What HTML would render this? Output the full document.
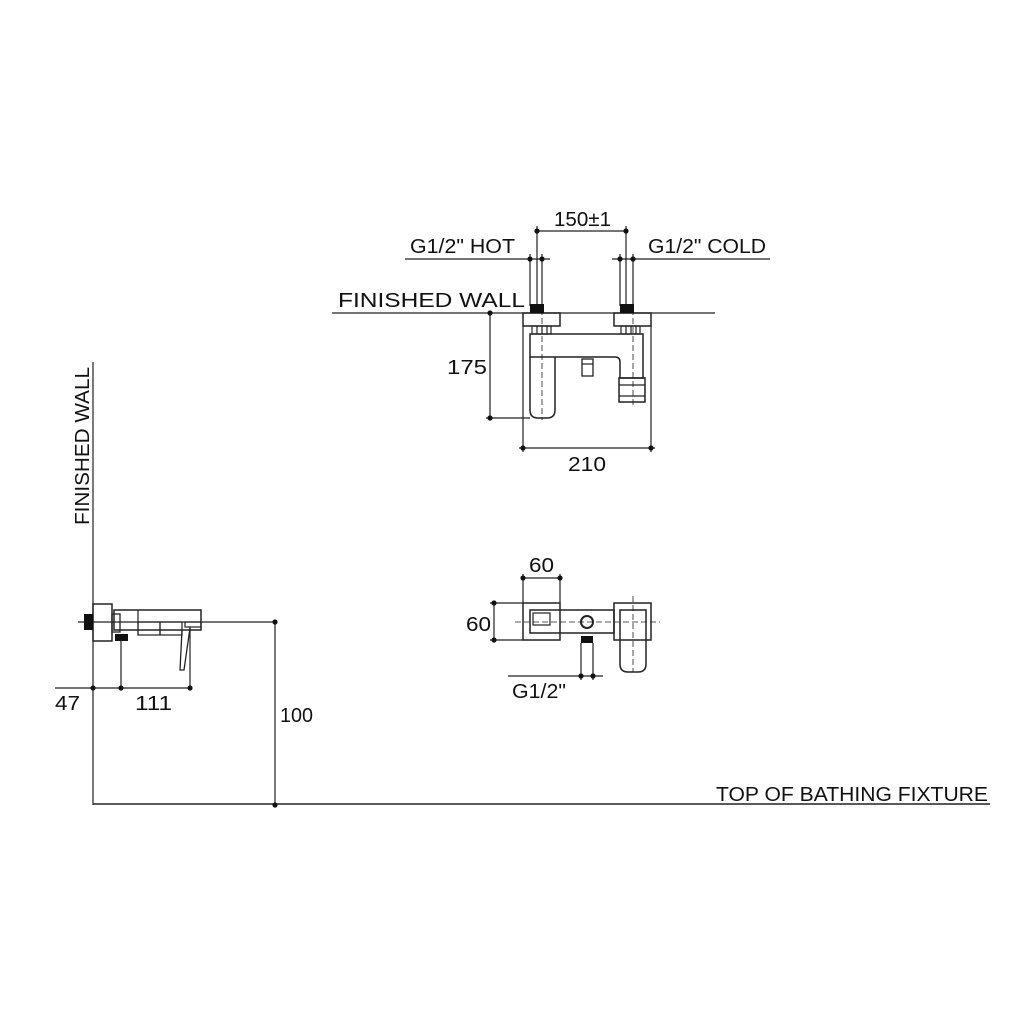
<!DOCTYPE html>
<html><head><meta charset="utf-8"><style>
html,body{margin:0;padding:0;background:#fff}
svg{display:block}
text{font-family:"Liberation Sans",Arial,sans-serif;fill:#111}
</style></head><body>
<svg width="1024" height="1024" viewBox="0 0 1024 1024" xmlns="http://www.w3.org/2000/svg">
<g stroke="#222" stroke-width="1.2" fill="none">
<line x1="332" y1="313" x2="715" y2="313"/>
<line x1="405" y1="259" x2="550" y2="259"/>
<line x1="612" y1="259" x2="770" y2="259"/>
<line x1="537" y1="231" x2="626" y2="231"/>
<line x1="530" y1="254" x2="530" y2="306"/>
<line x1="542" y1="254" x2="542" y2="306"/>
<line x1="537" y1="226" x2="537" y2="306"/>
<line x1="620" y1="254" x2="620" y2="306"/>
<line x1="633" y1="254" x2="633" y2="306"/>
<line x1="626" y1="226" x2="626" y2="306"/>
<rect x="523" y="313" width="37" height="13" stroke-width="1.5"/>
<rect x="614" y="313" width="37" height="13" stroke-width="1.5"/>
<rect x="532" y="326" width="19" height="8"/>
<rect x="621" y="326" width="19" height="8"/>
<line x1="537" y1="326" x2="537" y2="334"/><line x1="542" y1="326" x2="542" y2="334"/><line x1="547" y1="326" x2="547" y2="334"/>
<line x1="626" y1="326" x2="626" y2="334"/><line x1="631" y1="326" x2="631" y2="334"/><line x1="636" y1="326" x2="636" y2="334"/>
<path d="M530 334 H643 V378 H620 V362 Q620 357 615 357 H530 Z" stroke-width="1.5"/>
<path d="M530 357 V410 Q530 418 538 418 H547 Q555 418 555 410 V357" stroke-width="1.5"/>
<rect x="582" y="359" width="11" height="17" stroke-width="1.3"/>
<line x1="582" y1="364" x2="593" y2="364"/>
<rect x="619" y="378" width="26" height="24" stroke-width="1.5"/>
<line x1="619" y1="385" x2="645" y2="385"/><line x1="619" y1="396" x2="645" y2="396"/>
<line x1="523" y1="326" x2="523" y2="452"/>
<line x1="651" y1="326" x2="651" y2="452"/>
<line x1="519" y1="448" x2="655" y2="448"/>
<line x1="490" y1="313" x2="490" y2="418"/>
<line x1="486" y1="418" x2="530" y2="418"/>
<line x1="542" y1="300" x2="542" y2="420" stroke-dasharray="6,3" stroke-width="0.8"/>
<line x1="633" y1="300" x2="633" y2="405" stroke-dasharray="6,3" stroke-width="0.8"/>

<line x1="93" y1="362" x2="93" y2="805"/>
<line x1="93" y1="804" x2="990" y2="804" stroke-width="1.6"/>
<line x1="78" y1="622" x2="275" y2="622"/>
<line x1="275" y1="622" x2="275" y2="805"/>
<rect x="93" y="604" width="19" height="37" stroke-width="1.5"/>
<rect x="112" y="614" width="8" height="18" stroke-width="1.3"/>
<rect x="114" y="610" width="87" height="20" stroke-width="1.5"/>
<line x1="138" y1="610" x2="138" y2="635"/>
<rect x="138" y="622" width="22" height="13"/>
<rect x="160" y="622" width="22" height="13"/>
<rect x="185" y="622" width="16" height="5"/>
<path d="M182 630 L180 670 L184 670 L190 628" stroke-width="1.3"/>
<line x1="55" y1="688" x2="190" y2="688"/>
<line x1="121" y1="641" x2="121" y2="688"/>
<line x1="190" y1="627" x2="190" y2="688"/>

<rect x="523" y="603" width="37" height="37" stroke-width="1.5"/>
<rect x="530" y="610" width="84" height="23" stroke-width="1.5"/>
<rect x="533" y="613" width="17" height="12"/>
<rect x="614" y="603" width="37" height="37" stroke-width="1.5"/>
<path d="M620 610 H646 V664 Q646 672 638 672 H628 Q620 672 620 664 Z" stroke-width="1.5"/>
<circle cx="587" cy="622" r="6" stroke-width="2"/>
<line x1="515" y1="622" x2="660" y2="622" stroke-dasharray="6,3" stroke-width="0.8"/>
<line x1="633" y1="596" x2="633" y2="672" stroke-dasharray="6,3" stroke-width="0.8"/>
<line x1="523" y1="578" x2="560" y2="578"/>
<line x1="523" y1="574" x2="523" y2="603"/>
<line x1="560" y1="574" x2="560" y2="603"/>
<line x1="494" y1="603" x2="494" y2="640"/>
<line x1="490" y1="603" x2="523" y2="603"/>
<line x1="490" y1="640" x2="523" y2="640"/>
<line x1="508" y1="676" x2="603" y2="676"/>
<line x1="581" y1="643" x2="581" y2="680"/>
<line x1="593" y1="643" x2="593" y2="680"/>
</g>
<g fill="#111">
<rect x="530" y="304" width="14" height="9"/>
<rect x="620" y="304" width="14" height="9"/>
<rect x="84" y="614" width="9" height="16"/>
<rect x="115" y="634" width="13" height="7"/>
<rect x="581" y="636" width="12" height="7"/>
<circle cx="530" cy="259" r="2.6"/><circle cx="542" cy="259" r="2.6"/>
<circle cx="620" cy="259" r="2.6"/><circle cx="633" cy="259" r="2.6"/>
<circle cx="537" cy="231" r="2.6"/><circle cx="626" cy="231" r="2.6"/>
<circle cx="490" cy="313" r="2.6"/><circle cx="490" cy="418" r="2.6"/>
<circle cx="523" cy="448" r="2.6"/><circle cx="651" cy="448" r="2.6"/>
<circle cx="275" cy="622" r="2.6"/><circle cx="275" cy="805" r="2.6"/>
<circle cx="93" cy="688" r="2.6"/><circle cx="121" cy="688" r="2.6"/><circle cx="190" cy="688" r="2.6"/>
<circle cx="523" cy="578" r="2.6"/><circle cx="560" cy="578" r="2.6"/>
<circle cx="494" cy="603" r="2.6"/><circle cx="494" cy="640" r="2.6"/>
<circle cx="581" cy="676" r="2.6"/><circle cx="593" cy="676" r="2.6"/>
</g>
<g font-size="20" lengthAdjust="spacingAndGlyphs">
<text x="338" y="307" textLength="187" lengthAdjust="spacingAndGlyphs">FINISHED WALL</text>
<text x="410" y="253" textLength="105" lengthAdjust="spacingAndGlyphs">G1/2" HOT</text>
<text x="648" y="253" textLength="118" lengthAdjust="spacingAndGlyphs">G1/2" COLD</text>
<text x="554" y="226" textLength="57" lengthAdjust="spacingAndGlyphs">150±1</text>
<text x="447" y="374" textLength="40" lengthAdjust="spacingAndGlyphs">175</text>
<text x="568" y="471" textLength="38" lengthAdjust="spacingAndGlyphs">210</text>
<text x="0" y="0" transform="translate(89 525) rotate(-90)" textLength="158" lengthAdjust="spacingAndGlyphs">FINISHED WALL</text>
<text x="716" y="801" textLength="272" lengthAdjust="spacingAndGlyphs">TOP OF BATHING FIXTURE</text>
<text x="280" y="722" textLength="33" lengthAdjust="spacingAndGlyphs">100</text>
<text x="55" y="710" textLength="25" lengthAdjust="spacingAndGlyphs">47</text>
<text x="135" y="710" textLength="37" lengthAdjust="spacingAndGlyphs">111</text>
<text x="529" y="572" textLength="25" lengthAdjust="spacingAndGlyphs">60</text>
<text x="466" y="631" textLength="25" lengthAdjust="spacingAndGlyphs">60</text>
<text x="512" y="698" textLength="54" lengthAdjust="spacingAndGlyphs">G1/2"</text>
</g>
</svg>
</body></html>
